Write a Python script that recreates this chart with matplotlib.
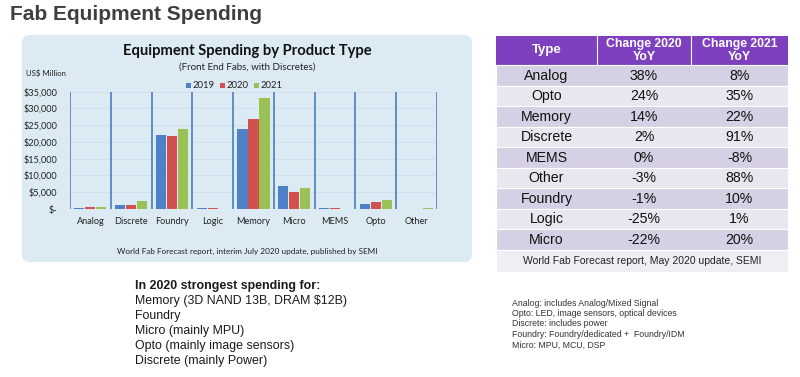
import matplotlib
matplotlib.use("Agg")
import matplotlib.pyplot as plt
import numpy as np
from matplotlib.patches import FancyBboxPatch, Rectangle

# ---------------- data ----------------
categories = ["Analog", "Discrete", "Foundry", "Logic", "Memory", "Micro", "MEMS", "Opto", "Other"]
spend_2019 = [400, 1100, 22000, 200, 23800, 7000, 200, 1500, 100]
spend_2020 = [600, 1100, 21700, 150, 27000, 5200, 200, 2050, 100]
spend_2021 = [650, 2300, 23900, 120, 33200, 6300, 100, 2700, 150]
years = ["2019", "2020", "2021"]
yticks = [0, 5000, 10000, 15000, 20000, 25000, 30000, 35000]
ytick_labels = ["$-", "$5,000", "$10,000", "$15,000", "$20,000", "$25,000", "$30,000", "$35,000"]

table_types = ["Analog", "Opto", "Memory", "Discrete", "MEMS", "Other", "Foundry", "Logic", "Micro"]
change_2020 = ["38%", "24%", "14%", "2%", "0%", "-3%", "-1%", "-25%", "-22%"]
change_2021 = ["8%", "35%", "22%", "91%", "-8%", "88%", "10%", "1%", "20%"]
table_header = ["Type", "Change 2020\nYoY", "Change 2021\nYoY"]
table_footer = "World Fab Forecast report, May 2020 update, SEMI"

spending_lines = ["In 2020 strongest spending for:",
                  "Memory (3D NAND 13B, DRAM $12B)",
                  "Foundry",
                  "Micro (mainly MPU)",
                  "Opto (mainly image sensors)",
                  "Discrete (mainly Power)"]
note_lines = ["Analog: includes Analog/Mixed Signal",
              "Opto: LED, image sensors, optical devices",
              "Discrete: includes power",
              "Foundry: Foundry/dedicated +  Foundry/IDM",
              "Micro: MPU, MCU, DSP"]

W, H = 800, 377
fig = plt.figure(figsize=(W / 100, H / 100), dpi=100)
fig.patch.set_facecolor("white")

# overlay axes in pixel coordinates (y downward)
ov = fig.add_axes([0, 0, 1, 1], zorder=0)
ov.set_xlim(0, W)
ov.set_ylim(H, 0)
ov.axis("off")

ARIAL = "Liberation Sans"
CHART = "Lato"

ov.text(10, 14, "Fab Equipment Spending", fontsize=15, fontweight="bold",
        family=ARIAL, color="#3f3f3f", va="center", ha="left")

# chart panel
panel = FancyBboxPatch((22, 35), 450, 227, boxstyle="round,pad=0,rounding_size=8",
                       facecolor="#dbeaf3", edgecolor="none")
ov.add_patch(panel)
ov.text(247, 51, "Equipment Spending by Product Type", fontsize=10.6, fontweight="bold",
        family=CHART, color="#111111", ha="center", va="center")
ov.text(247, 67.5, "(Front End Fabs, with Discretes)", fontsize=7.0,
        family=CHART, color="#222222", ha="center", va="center")
ov.text(26, 73, "US$ Million", fontsize=5.6, family=CHART, color="#222222",
        ha="left", va="center")
ov.text(247, 251, "World Fab Forecast report, interim July 2020 update, published by SEMI",
        fontsize=5.9, family=CHART, color="#222222", ha="center", va="center")

colors = ["#4f81c9", "#d0514e", "#9bc056"]

# legend
lx = 186
for i, y in enumerate(years):
    ov.add_patch(Rectangle((lx, 83), 5, 5, facecolor=colors[i], edgecolor="none"))
    ov.text(lx + 6.5, 85.8, y, fontsize=6.8, family=CHART, color="#222222",
            ha="left", va="center")
    lx += 34

# bar chart axes
x0, x1 = 70, 437
ytop, ybot = 91.7, 209
ax = fig.add_axes([x0 / W, 1 - ybot / H, (x1 - x0) / W, (ybot - ytop) / H], zorder=1)
ax.set_facecolor("none")
n = len(categories)
xs = np.arange(n)
bw = 0.25
for i, vals in enumerate([spend_2019, spend_2020, spend_2021]):
    ax.bar(xs + (i - 1) * (bw + 0.02), vals, width=bw, color=colors[i], edgecolor="none", zorder=3)
ax.set_xlim(-0.5, n - 0.5)
ax.set_ylim(0, 35000)
ax.set_yticks(yticks)
ax.set_yticklabels(ytick_labels, family=CHART, fontsize=6.6, color="#222222")
ax.set_xticks(xs)
ax.set_xticklabels(categories, family=CHART, fontsize=6.6, color="#222222")
ax.tick_params(length=0)
ax.tick_params(axis="y", pad=9)
ax.tick_params(axis="x", pad=6)
ax.grid(axis="y", color="#cfe0ea", lw=0.6, zorder=0)
for s in ax.spines.values():
    s.set_visible(False)
for b in np.arange(-0.5, n, 1.0):
    ax.axvline(b, color="#4a7ebb", lw=1.2, zorder=2)

# table
tx = [496, 597, 691, 788]
hy0, hy1 = 36, 65
row_h = 20.5
ov.add_patch(Rectangle((tx[0], hy0), tx[3] - tx[0], hy1 - hy0, facecolor="#7f40bf", edgecolor="none"))
for c in range(3):
    cx = (tx[c] + tx[c + 1]) / 2
    ov.text(cx, (hy0 + hy1) / 2, table_header[c], fontsize=9.5 if c == 0 else 8.8,
            fontweight="bold", family=ARIAL, color="white", ha="center", va="center",
            linespacing=1.0)
for c in (1, 2):
    ov.plot([tx[c], tx[c]], [hy0, hy1], color="white", lw=0.8)
for r in range(len(table_types)):
    y0 = hy1 + r * row_h
    fc = "#d6d0e4" if r % 2 == 0 else "#e9e6f0"
    ov.add_patch(Rectangle((tx[0], y0), tx[3] - tx[0], row_h, facecolor=fc,
                           edgecolor="white", lw=0.8))
    vals = [table_types[r], change_2020[r], change_2021[r]]
    for c in range(3):
        cx = (tx[c] + tx[c + 1]) / 2
        ov.text(cx, y0 + row_h / 2 + 0.5, vals[c], fontsize=10.2, family=ARIAL,
                color="#111111", ha="center", va="center")
fy0 = hy1 + len(table_types) * row_h
ov.add_patch(Rectangle((tx[0], fy0), tx[3] - tx[0], 272 - fy0, facecolor="#f0eef4",
                       edgecolor="white", lw=0.8))
ov.text((tx[0] + tx[3]) / 2, (fy0 + 272) / 2, table_footer, fontsize=7.5, family=ARIAL,
        color="#222222", ha="center", va="center")

# bottom-left text
for i, line in enumerate(spending_lines):
    ov.text(135, 286 + i * 15, line, fontsize=8.9, family=ARIAL, color="#1a1a1a",
            fontweight="bold" if i == 0 else "normal", ha="left", va="center")

# notes
for i, line in enumerate(note_lines):
    ov.text(512, 303 + i * 10.5, line, fontsize=6.3, family=ARIAL, color="#333333",
            ha="left", va="center")

fig.savefig("out.png", dpi=100, facecolor="white")
